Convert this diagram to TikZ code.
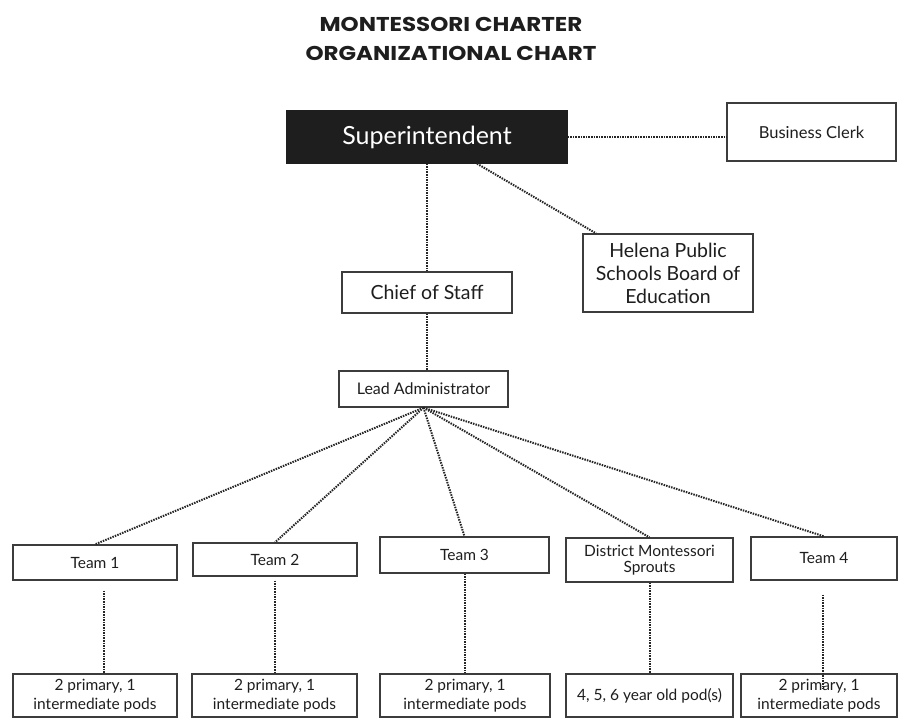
\documentclass[tikz,border=0pt]{standalone}
\usepackage{fontspec}
\usepackage{graphicx}
\setmainfont{Lato}
\newfontfamily\titlefont{Poppins}
\usepackage{tikz}
\usetikzlibrary{positioning, calc}

\definecolor{inkgray}{RGB}{30, 30, 30}
\definecolor{boxline}{RGB}{60, 60, 60}
\definecolor{superblack}{RGB}{30, 30, 30}

\newcommand{\widetitle}[1]{\scalebox{1.15}[1]{#1}}

\begin{document}
\begin{tikzpicture}[x=1pt, y=-1pt,
  orgbox/.style={draw=boxline, line width=1.3pt, fill=white, inner sep=0pt, align=center, text=inkgray},
  orglink/.style={line width=2pt, dash pattern=on 1.5pt off 1.1pt, black!85}]
  \useasboundingbox (0,0) rectangle (902,719);

  % Title
  \node[font=\titlefont\bfseries\fontsize{20}{24}\selectfont, text=inkgray] (title1) at (451, 24) {\widetitle{MONTESSORI CHARTER}};
  \node[font=\titlefont\bfseries\fontsize{20}{24}\selectfont, text=inkgray] (title2) at (451, 53) {\widetitle{ORGANIZATIONAL CHART}};

  % Top level
  \node[orgbox, fill=superblack, draw=superblack, text=white, minimum width=280pt, minimum height=52pt, font=\fontsize{25}{28}\selectfont] (super) at (427, 137) {Superintendent};
  \node[orgbox, minimum width=169pt, minimum height=58pt, font=\fontsize{16.5}{19}\selectfont] (clerk) at (811.5, 132) {Business Clerk};
  \node[orgbox, minimum width=170pt, minimum height=78pt, font=\fontsize{19.5}{23}\selectfont] (helena) at (668, 273) {Helena Public\\Schools Board of\\Education};

  % Middle
  \node[orgbox, minimum width=170pt, minimum height=41pt, font=\fontsize{19.5}{23}\selectfont] (chief) at (427, 292.5) {Chief of Staff};
  \node[orgbox, minimum width=169pt, minimum height=36pt, font=\fontsize{16}{19}\selectfont] (lead) at (423.5, 389) {Lead Administrator};

  % Teams
  \node[orgbox, minimum width=164pt, minimum height=35pt, font=\fontsize{15.5}{18}\selectfont] (team1) at (95, 562.5) {Team 1};
  \node[orgbox, minimum width=164pt, minimum height=33pt, font=\fontsize{15.5}{18}\selectfont] (team2) at (275, 559.5) {Team 2};
  \node[orgbox, minimum width=169pt, minimum height=36pt, font=\fontsize{15.5}{18}\selectfont] (team3) at (464.5, 555) {Team 3};
  \node[orgbox, minimum width=167pt, minimum height=44pt, font=\fontsize{15.5}{16.5}\selectfont] (sprouts) at (649.5, 560) {District Montessori\\Sprouts};
  \node[orgbox, minimum width=146pt, minimum height=43pt, font=\fontsize{15.5}{18}\selectfont] (team4) at (824, 558.5) {Team 4};

  % Pods
  \node[orgbox, minimum width=164pt, minimum height=43pt, font=\fontsize{15.5}{19}\selectfont] (pods1) at (95, 695.5) {2 primary, 1\\intermediate pods};
  \node[orgbox, minimum width=165pt, minimum height=43pt, font=\fontsize{15.5}{19}\selectfont] (pods2) at (274.5, 695.5) {2 primary, 1\\intermediate pods};
  \node[orgbox, minimum width=170pt, minimum height=43pt, font=\fontsize{15.5}{19}\selectfont] (pods3) at (465, 695.5) {2 primary, 1\\intermediate pods};
  \node[orgbox, minimum width=167pt, minimum height=43pt, font=\fontsize{15.5}{19}\selectfont] (pods4) at (649.5, 695.5) {4, 5, 6 year old pod(s)};
  \node[orgbox, minimum width=156pt, minimum height=43pt, font=\fontsize{15.5}{19}\selectfont] (pods5) at (819, 695.5) {2 primary, 1\\intermediate pods};

  % Connectors from the top
  \draw[orglink] (super.east) -- (super.east -| clerk.west);
  \draw[orglink] ([xshift=50pt]super.south) -- ([xshift=-72pt]helena.north);
  \draw[orglink] (super.south) -- (chief.north);
  \draw[orglink] (chief.south) -- (chief.south |- lead.north);

  % Fan out to the teams
  \foreach \t in {team1, team2, team3, sprouts, team4}
    \draw[orglink] (lead.south) -- (\t.north);

  % Teams down to pods
  \draw[orglink, shorten <=10pt] ([xshift=9pt]team1.south) -- ([xshift=9pt]pods1.north);
  \draw[orglink, shorten <=4pt] (team2.south) -- (team2.south |- pods2.north);
  \draw[orglink] (team3.south) -- (team3.south |- pods3.north);
  \draw[orglink] (sprouts.south) -- (sprouts.south |- pods4.north);
  \draw[orglink, shorten <=14pt, shorten >=-16pt] ([xshift=-1pt]team4.south) -- ([xshift=-1pt]team4.south |- pods5.north);
\end{tikzpicture}
\end{document}
